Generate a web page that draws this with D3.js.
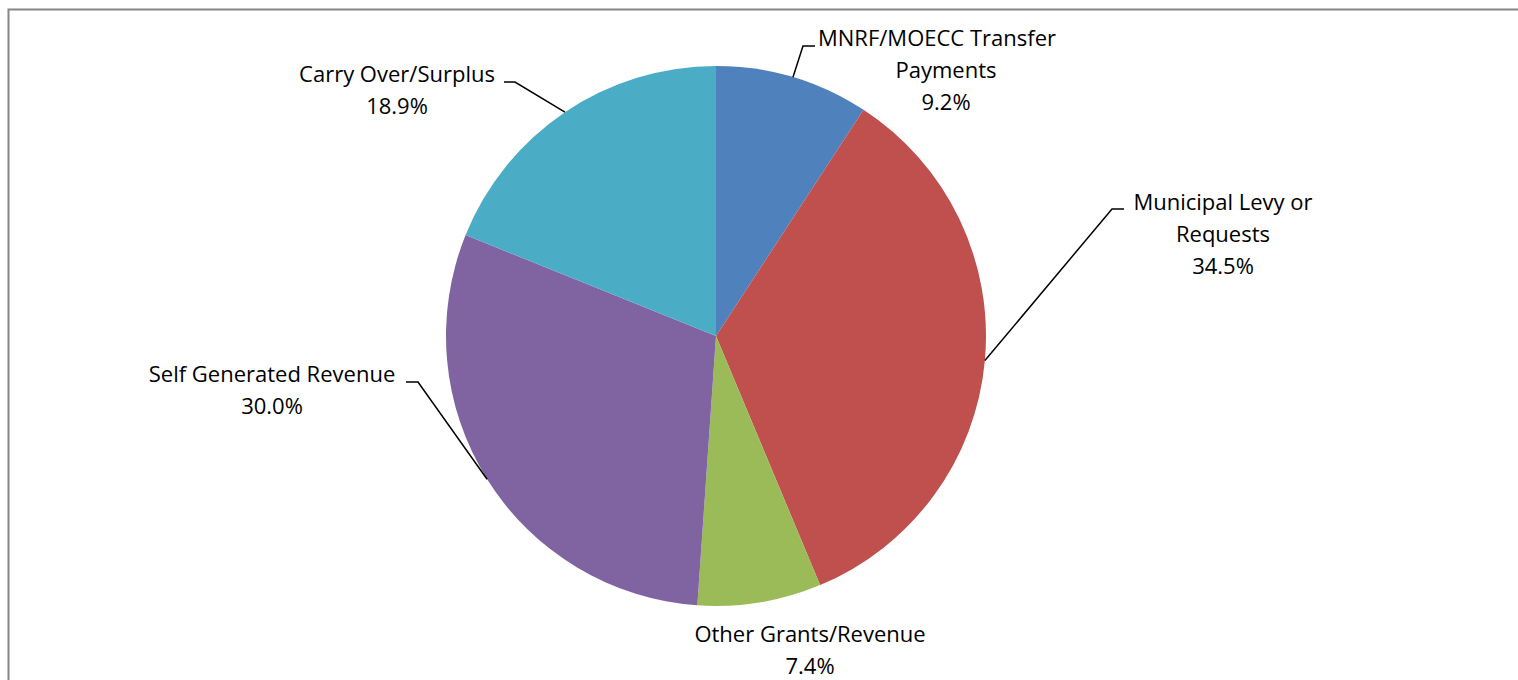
<!DOCTYPE html>
<html>
<head>
<meta charset="utf-8">
<script src="https://cdn.jsdelivr.net/npm/d3@7"></script>
<style>
  body { margin: 0; background: #fff; }
  text { font-family: "Open Sans", sans-serif; font-size: 22px; fill: #000; }
</style>
</head>
<body>
<div id="chart"></div>
<script>

// Data
const categories = ["MNRF/MOECC Transfer Payments", "Municipal Levy or Requests", "Other Grants/Revenue", "Self Generated Revenue", "Carry Over/Surplus"]
const shares = [9.2, 34.5, 7.4, 30.0, 18.9]
const labelLines = [
    ["MNRF/MOECC Transfer", "Payments"],
    ["Municipal Levy or", "Requests"],
    ["Other Grants/Revenue"],
    ["Self Generated Revenue"],
    ["Carry Over/Surplus"]
]
const colors = ["#4F81BD", "#C0504D", "#9BBB59", "#8064A2", "#4BACC6"]

// Layout of labels (center x, first baseline y, elbow of leader line)
const labelLayout = [
    {x: 946, y: 46, lineDx: [-9, 0, 0], elbow: [[803, 46], [815, 46]]},
    {x: 1223, y: 210, lineDx: [0, 0, 0], elbow: [[1112, 209], [1124, 209]]},
    {x: 810, y: 642, lineDx: [0, 0], elbow: null},
    {x: 272, y: 382, lineDx: [0, 0], elbow: [[418, 382], [406, 382]]},
    {x: 397, y: 82, lineDx: [0, 0], elbow: [[515, 82], [504, 82]]}
]

const width = 1518
const height = 680
const cx = 716, cy = 336, radius = 270
const lineHeight = 32

const svg = d3.select("#chart")
    .append("svg")
    .attr("width", width)
    .attr("height", height)

// Frame
svg.append("path")
    .attr("d", `M8.5,${height} V9.5 H${width}`)
    .attr("fill", "none")
    .attr("stroke", "#868686")
    .attr("stroke-width", 2)

const pie = d3.pie().sort(null).value(d => d)
const arcs = pie(shares)

const arc = d3.arc().innerRadius(0).outerRadius(radius)

const g = svg.append("g")
    .attr("transform", `translate(${cx}, ${cy})`)

g.selectAll("path")
    .data(arcs)
    .enter()
    .append("path")
    .attr("d", arc)
    .attr("fill", (d, i) => colors[i])

// Leader lines
arcs.forEach((d, i) => {
    const lay = labelLayout[i]
    if (!lay.elbow) return
    const mid = (d.startAngle + d.endAngle) / 2
    const start = [cx + radius * Math.sin(mid), cy - radius * Math.cos(mid)]
    svg.append("polyline")
        .attr("points", [start, lay.elbow[0], lay.elbow[1]].map(p => p.join(",")).join(" "))
        .attr("fill", "none")
        .attr("stroke", "#000")
        .attr("stroke-width", 1.5)
})

// Labels
arcs.forEach((d, i) => {
    const lay = labelLayout[i]
    const lines = labelLines[i].concat([d3.format(".1f")(shares[i]) + "%"])
    const t = svg.append("text")
        .attr("text-anchor", "middle")
    lines.forEach((ln, j) => {
        t.append("tspan")
            .attr("x", lay.x + (lay.lineDx[j] || 0))
            .attr("y", lay.y + j * lineHeight)
            .text(ln)
    })
})
</script>
</body>
</html>
